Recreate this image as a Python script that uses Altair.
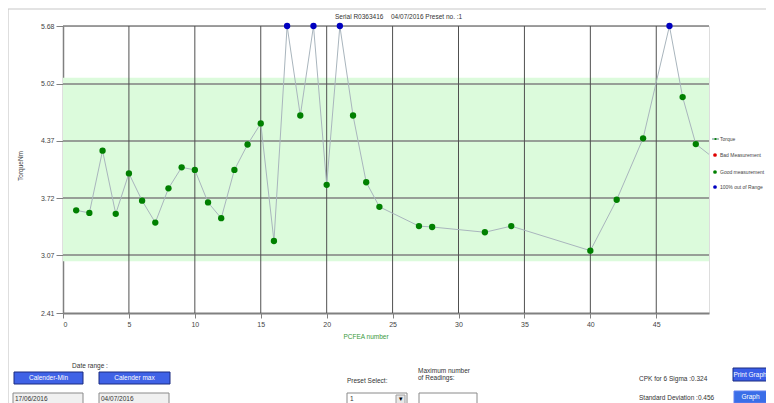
import altair as alt
import pandas as pd

# ---------------- data ----------------
pcfea = [1, 2, 3, 4, 5, 6, 7, 8, 9, 10, 11, 12, 13, 14, 15, 16, 17, 18, 19, 20,
         21, 22, 23, 24, 27, 28, 32, 34, 40, 42, 44, 46, 47, 48, 50]
torque = [3.58, 3.55, 4.26, 3.54, 4.00, 3.69, 3.44, 3.83, 4.07, 4.04,
          3.67, 3.49, 4.04, 4.33, 4.57, 3.23, 5.68, 4.66, 5.68, 3.87,
          5.68, 4.66, 3.90, 3.62, 3.40, 3.39, 3.33, 3.40, 3.12, 3.70,
          4.40, 5.68, 4.87, 4.335, 4.10]
status = ["good"] * 16 + ["range", "good", "range", "good", "range"] + ["good"] * 10 + \
         ["range", "good", "good", "good"]

y_ticks = [2.41, 3.07, 3.72, 4.37, 5.02, 5.68]
x_ticks = [0, 5, 10, 15, 20, 25, 30, 35, 40, 45]
band_low = 3.00
band_high = 5.09
x_max = 49

legend_labels = ["Bad Measurement", "Good measurement", "100% out of Range"]
legend_status = ["bad", "good", "range"]
status_domain = ["bad", "good", "range"]
status_colors = ["#e00000", "#008000", "#0000c0"]

title_serial = "Serial R0363416"
title_date = "04/07/2016 Preset no. :1"
x_title = "PCFEA number"
y_title = "TorqueNm"

# ---------------- layout ----------------
W, H = 646, 287
FONT = "Liberation Sans"

df = pd.DataFrame({"n": pcfea, "torque": torque, "status": status})

xs = alt.Scale(domain=[0, x_max], nice=False, zero=False)
ys = alt.Scale(domain=[y_ticks[0], y_ticks[-1]], nice=False, zero=False)
x_axis = alt.Axis(values=x_ticks, format="d", title=None, grid=False, labelFontSize=7,
                  labelColor="#444444", labelFont=FONT, tickSize=5, tickColor="#808080",
                  domainColor="#808080", domainWidth=2, labelPadding=2)
y_axis = alt.Axis(values=y_ticks, format=".2f", title=None, grid=False, labelFontSize=7,
                  labelColor="#444444", labelFont=FONT, tickSize=7, tickColor="#808080",
                  domainColor="#808080", domainWidth=1.5, labelPadding=2)

band = alt.Chart(pd.DataFrame({"lo": [band_low], "hi": [band_high]})).mark_rect(
    color="#dcfbdc").encode(
    x=alt.value(0), x2=alt.value(W),
    y=alt.Y("lo:Q", scale=ys, axis=y_axis), y2="hi:Q")

hrules = alt.Chart(pd.DataFrame({"v": y_ticks[1:]})).mark_rule(
    color="#808080", strokeWidth=1.5).encode(
    y=alt.Y("v:Q", scale=ys, axis=y_axis), x=alt.value(0), x2=alt.value(W))

vrules = alt.Chart(pd.DataFrame({"v": x_ticks[1:]})).mark_rule(
    color="#505050", strokeWidth=1).encode(
    x=alt.X("v:Q", scale=xs, axis=x_axis), y=alt.value(0), y2=alt.value(H))

line = alt.Chart(df).mark_line(color="#a9b5bd", strokeWidth=1, clip=True).encode(
    x=alt.X("n:Q", scale=xs, axis=x_axis),
    y=alt.Y("torque:Q", scale=ys, axis=y_axis))

points = alt.Chart(df).transform_filter(f"datum.n <= {x_max}").mark_point(
    filled=True, size=40, opacity=1).encode(
    x=alt.X("n:Q", scale=xs, axis=x_axis),
    y=alt.Y("torque:Q", scale=ys, axis=y_axis),
    color=alt.Color("status:N", scale=alt.Scale(domain=status_domain, range=status_colors),
                    legend=None))

# ---------------- legend (custom) ----------------
leg_df = pd.DataFrame({"label": legend_labels, "status": legend_status,
                       "py": [129, 146, 161]})
leg_dots = alt.Chart(leg_df).mark_point(filled=True, size=14, opacity=1).encode(
    x=alt.value(652), y=alt.Y("py:Q", scale=None),
    color=alt.Color("status:N", scale=alt.Scale(domain=status_domain, range=status_colors),
                    legend=None))
leg_text = alt.Chart(leg_df).mark_text(align="left", baseline="middle", fontSize=5,
                                       font=FONT, color="#444444").encode(
    x=alt.value(657), y=alt.Y("py:Q", scale=None), text="label:N")
leg_line = alt.Chart(pd.DataFrame({"a": [0]})).mark_rule(color="#5a8a80", strokeWidth=1).encode(
    x=alt.value(649), x2=alt.value(656), y=alt.value(113))
leg_line_dot = alt.Chart(pd.DataFrame({"a": [0]})).mark_point(
    filled=True, size=5, color="#008000", opacity=1).encode(x=alt.value(652.5), y=alt.value(113))
leg_torque = alt.Chart(pd.DataFrame({"a": [0]})).mark_text(
    align="left", baseline="middle", fontSize=5, font=FONT, color="#444444").encode(
    x=alt.value(657), y=alt.value(113), text=alt.value("Torque"))

# ---------------- frame + form controls (pixel layout) ----------------
frame = pd.DataFrame({"px": [-55, -55], "px2": [703, -55], "py": [-17, -17], "py2": [-17, 380]})
frame_l = alt.Chart(frame).mark_rule(color="#c8c8c8", strokeWidth=1.2).encode(
    x=alt.X("px:Q", scale=None), x2="px2:Q", y=alt.Y("py:Q", scale=None), y2="py2:Q")

boxes = pd.DataFrame({
    "px":  [-49, 36, -50, 36, 284, 333, 356, 670, 671],
    "px2": [20, 107, 20, 106, 344, 342, 414, 704, 704],
    "py":  [346, 346, 367, 367, 367, 369, 367, 342, 365],
    "py2": [358, 358, 380, 380, 380, 378, 380, 355, 377],
    "fill": ["#3f62e6", "#3f62e6", "#f0f0f0", "#f0f0f0", "#ffffff", "#e8e8e8",
             "#ffffff", "#3a5ee8", "#3a6ee8"],
    "stroke": ["#1a2a80", "#1a2a80", "#8a8a8a", "#8a8a8a", "#8a8a8a", "#a0a0a0",
               "#8a8a8a", "#1a2a80", "#6080f0"],
})
boxes_l = alt.Chart(boxes).mark_rect(strokeWidth=1).encode(
    x=alt.X("px:Q", scale=None), x2="px2:Q", y=alt.Y("py:Q", scale=None), y2="py2:Q",
    fill=alt.Fill("fill:N", scale=None), stroke=alt.Stroke("stroke:N", scale=None))

left_txt = pd.DataFrame({
    "label": ["17/06/2016", "04/07/2016", "Preset Select:", "1", "Maximum number",
              "of Readings:", "CPK for 6 Sigma :0.324", "Standard Deviation :0.456",
              title_serial, title_date],
    "px": [-48, 38, 284, 287, 355, 355, 576, 576, 272, 328],
    "py": [373, 373, 355, 373, 345, 352, 353, 372, -9, -9],
    "col": ["#333333"] * 10,
})
left_l = alt.Chart(left_txt).mark_text(align="left", baseline="middle", fontSize=6.5,
                                        font=FONT).encode(
    x=alt.X("px:Q", scale=None), y=alt.Y("py:Q", scale=None), text="label:N",
    color=alt.Color("col:N", scale=None))

center_txt = pd.DataFrame({
    "label": ["Date range :", "Calender-Min", "Calender max", "Print Graph", "Graph",
              x_title, "\u25be"],
    "px": [27, -14.5, 71.5, 687, 687.5, 303, 337.5],
    "py": [340, 352, 352, 348.5, 371, 311, 373],
    "col": ["#333333", "#ffffff", "#ffffff", "#ffffff", "#ffffff", "#3a9a3a", "#000000"],
})
center_l = alt.Chart(center_txt).mark_text(align="center", baseline="middle", fontSize=6.5,
                                            font=FONT).encode(
    x=alt.X("px:Q", scale=None), y=alt.Y("py:Q", scale=None), text="label:N",
    color=alt.Color("col:N", scale=None))

ytitle = alt.Chart(pd.DataFrame({"a": [0]})).mark_text(
    angle=270, align="center", baseline="middle", fontSize=6.5, font=FONT,
    color="#444444").encode(x=alt.value(-42), y=alt.value(140), text=alt.value(y_title))

chart = alt.layer(
    band, hrules, vrules, line, points,
    leg_line, leg_line_dot, leg_torque, leg_dots, leg_text,
    frame_l, boxes_l, left_l, center_l, ytitle,
).properties(
    width=W, height=H,
    padding={"left": 55, "top": 18, "right": 57, "bottom": 90},
    autosize=alt.AutoSizeParams(type="none"),
).configure_view(stroke=None).configure(background="#ffffff")

chart.save("out.html", embed_options={"renderer": "svg", "actions": False})
